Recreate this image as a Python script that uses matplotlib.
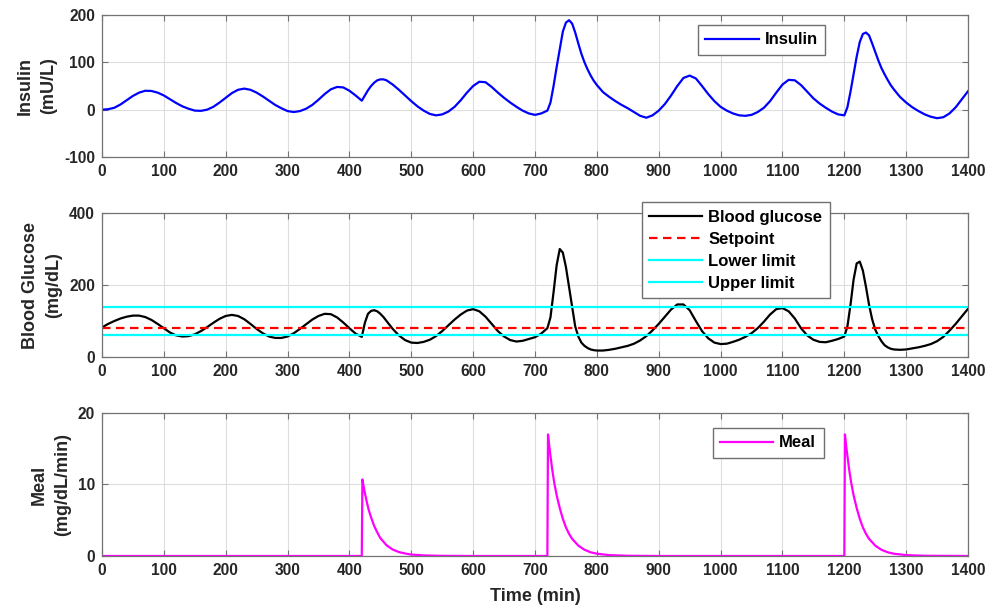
import numpy as np
import matplotlib
matplotlib.use("Agg")
import matplotlib.pyplot as plt

# time grid for insulin / glucose (min); finer steps around the meal responses
t = (list(range(0, 420, 10)) + list(range(420, 461, 5)) + list(range(470, 720, 10))
     + list(range(720, 801, 5)) + list(range(810, 1200, 10)) + list(range(1200, 1281, 5))
     + list(range(1290, 1401, 10)))

insulin = [0, 1, 4, 11, 20, 29, 36, 40, 39.5, 36, 30, 22, 14, 7, 2, -2, -2.5,
           0, 6, 15, 25, 35, 42, 44.5, 42, 36, 28, 19, 10, 3, -3, -5, -3,
           2, 10, 21, 33, 43, 48, 47, 40, 30,
           19, 30, 41, 50, 57, 62, 64, 64, 62,
           53, 42, 30, 18, 7, -2, -9, -12, -10,
           -4, 6, 20, 36, 50, 59, 58, 48, 36, 25, 15, 6, -2, -8, -11, -8,
           -2, 15, 50, 90, 128, 165, 184, 189, 182, 163, 140, 118, 100, 85, 72, 61, 52,
           37, 27, 18, 10, 3, -5, -13, -17, -12, -2,
           12, 30, 50, 67, 72, 66, 50, 33, 18, 6, -2, -8, -12, -13, -11, -5,
           4, 18, 36, 53, 63, 62, 52, 38, 24, 13, 4, -4, -10,
           -12, 5, 38, 75, 112, 143, 160, 163, 157, 140, 122, 104, 88, 75, 63, 52, 43,
           27, 15, 5, -3, -10, -15, -18, -16, -8, 5, 22, 39]

glucose = [82, 92, 100, 107, 112, 115, 115, 111, 103, 92, 80, 68, 60, 57, 58, 63, 72,
           83, 95, 106, 114, 117, 114, 105, 92, 78, 66, 57, 53, 53, 57, 66, 78,
           91, 104, 114, 120, 119, 110, 96, 80, 65,
           56, 95, 120, 128, 130, 127, 120, 111, 100,
           78, 60, 47, 40, 39, 42, 48, 58, 72,
           88, 104, 118, 129, 133, 127, 112, 92, 72, 57, 47, 43, 45, 50, 55, 65,
           80, 110, 180, 255, 300, 290, 250, 195, 140, 85, 57, 40, 31, 25, 21, 19, 18,
           18, 20, 23, 27, 31, 37, 46, 58, 74, 92,
           112, 132, 146, 146, 130, 100, 72, 52, 40, 36, 37, 42, 48, 56, 66, 80,
           98, 118, 133, 136, 127, 107, 80, 60, 48, 42, 41, 45, 50,
           57, 85, 145, 215, 260, 265, 240, 195, 145, 105, 76, 58, 44, 33, 27, 23, 21,
           20, 21, 24, 27, 31, 36, 44, 56, 73, 92, 113, 134]

setpoint = 80
lower_limit = 60
upper_limit = 140

# meal disturbance (mg/dL/min)
t_meal = [0, 420, 421, 423, 425, 428, 431, 435, 440, 445, 450, 455, 460, 470, 480, 490, 500, 520, 550, 600,
          720, 721, 723, 725, 728, 731, 735, 740, 745, 750, 755, 760, 770, 780, 790, 800, 820, 850, 900,
          1200, 1201, 1203, 1205, 1208, 1211, 1215, 1220, 1225, 1230, 1235, 1240, 1250, 1260, 1270, 1280,
          1300, 1330, 1400]
meal = [0, 0, 10.7, 9.7, 8.8, 7.6, 6.5, 5.4, 4.2, 3.3, 2.5, 2.0, 1.5, 0.9, 0.55, 0.35, 0.2, 0.08, 0.02, 0,
        0, 17, 15.4, 14.0, 12.0, 10.3, 8.5, 6.7, 5.2, 4.0, 3.1, 2.4, 1.45, 0.87, 0.52, 0.32, 0.12, 0.03, 0,
        0, 17, 15.4, 14.0, 12.0, 10.3, 8.5, 6.7, 5.2, 4.0, 3.1, 2.4, 1.45, 0.87, 0.52, 0.32,
        0.12, 0.03, 0]

plt.rcParams['font.family'] = ['Liberation Sans', 'DejaVu Sans']
plt.rcParams['font.weight'] = 'bold'
plt.rcParams['axes.unicode_minus'] = False

txt = '#262626'
spine = '#737373'
TICK = 11.2
LAB = 13

fig = plt.figure(figsize=(9.89, 6.13), dpi=100)
L, W = 0.1031, 0.8757
ax1 = fig.add_axes([L, 0.7439, W, 0.2316])
ax2 = fig.add_axes([L, 0.4176, W, 0.2349])
ax3 = fig.add_axes([L, 0.0930, W, 0.2333])

def style(ax, ylim, yticks):
    ax.set_xlim(0, 1400)
    ax.set_ylim(*ylim)
    ax.set_xticks(range(0, 1401, 100))
    ax.set_yticks(yticks)
    ax.grid(True, color='#dedede', linewidth=0.8)
    ax.set_axisbelow(True)
    ax.tick_params(direction='in', length=4, width=0.8, top=True, right=True,
                   colors=spine, labelcolor=txt, labelsize=TICK, pad=5)
    for s in ax.spines.values():
        s.set_color(spine)
        s.set_linewidth(0.9)
    for lab in ax.get_xticklabels() + ax.get_yticklabels():
        lab.set_fontweight('bold')

leg_kw = dict(fancybox=False, framealpha=1, edgecolor='#707070', handlelength=3.2,
              borderpad=0.45, borderaxespad=0, handletextpad=0.35,
              prop={'weight': 'bold', 'size': 12})
ylab_kw = dict(color=txt, fontweight='bold', fontsize=LAB, labelpad=5, linespacing=1.45)

ax1.plot(t, insulin, color='#0000ff', lw=1.6, label='Insulin')
style(ax1, (-100, 200), [-100, 0, 100, 200])
ax1.set_ylabel('Insulin\n(mU/L)', **ylab_kw)
lg = ax1.legend(loc='upper left', bbox_to_anchor=(0.688, 0.93), **leg_kw)
lg.get_frame().set_linewidth(1.0)

ax2.plot(t, glucose, color='black', lw=1.6, label='Blood glucose')
ax2.plot([0, 1400], [setpoint, setpoint], color='#ff0000', lw=1.6, ls=(0, (3.8, 2.5)), label='Setpoint')
ax2.plot([0, 1400], [lower_limit, lower_limit], color='#00ffff', lw=1.6, label='Lower limit')
ax2.plot([0, 1400], [upper_limit, upper_limit], color='#00ffff', lw=1.6, label='Upper limit')
style(ax2, (0, 400), [0, 200, 400])
ax2.set_ylabel('Blood Glucose\n(mg/dL)', **ylab_kw)
lg = ax2.legend(loc='upper left', bbox_to_anchor=(0.623, 1.076), labelspacing=0.42, **leg_kw)
lg.get_frame().set_linewidth(1.0)

ax3.plot(t_meal, meal, color='#ff00ff', lw=1.6, label='Meal')
style(ax3, (0, 20), [0, 10, 20])
ax3.set_ylabel('Meal\n(mg/dL/min)', **ylab_kw)
ax3.set_xlabel('Time (min)', color=txt, fontweight='bold', fontsize=LAB, labelpad=7)
lg = ax3.legend(loc='upper left', bbox_to_anchor=(0.705, 0.895), **leg_kw)
lg.get_frame().set_linewidth(1.0)

fig.savefig('out.png', dpi=100)
